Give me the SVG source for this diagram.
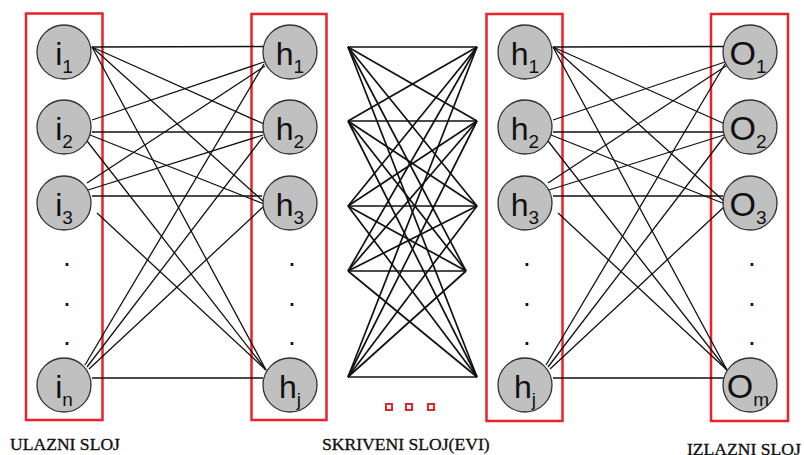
<svg xmlns="http://www.w3.org/2000/svg" width="804" height="455" viewBox="0 0 804 455">
  <style>
    .bg { fill: #ffffff; }
    .layer { fill: none; stroke: #e8232b; stroke-width: 2.5; }
    .node circle { fill: #c0c0c0; stroke: #333333; stroke-width: 1.3; }
    .lbl { font-family: "Liberation Sans", Arial, sans-serif; font-size: 32px; fill: #111111; text-anchor: middle; }
    .big { font-size: 34px; }
    .sub { font-size: 19px; }
    .dot { font-family: "Liberation Sans", Arial, sans-serif; font-size: 28px; fill: #111111; text-anchor: middle; }
    .edge line { stroke: #111111; stroke-width: 1.3; }
    .mid line { stroke: #111111; stroke-width: 1.7; }
    .cap { font-family: "Liberation Serif", "Times New Roman", serif; font-size: 17.6px; fill: #111111; stroke: #111111; stroke-width: 0.35; }
    .more { fill: #ffffff; stroke: #e8232b; stroke-width: 2; }
  </style>

  <rect class="bg" x="0" y="0" width="804" height="455"/>

  <!-- layer frames -->
  <g id="frames">
    <rect class="layer" x="26" y="13.5" width="76.5" height="406.5"/>
    <rect class="layer" x="251.5" y="14" width="75" height="406"/>
    <rect class="layer" x="486.5" y="14" width="76" height="407"/>
    <rect class="layer" x="711" y="14" width="77" height="407"/>
  </g>

  <!-- weighted connections -->
  <g id="connectors">
    <g id="edges-in" class="edge">
      <line x1="92" y1="47" x2="263" y2="46.5"/>
      <line x1="92" y1="47" x2="264" y2="124"/>
      <line x1="92" y1="47" x2="264" y2="202"/>
      <line x1="92" y1="47" x2="266" y2="370"/>
      <line x1="92" y1="120" x2="264" y2="62"/>
      <line x1="92" y1="132" x2="263" y2="132"/>
      <line x1="90" y1="135" x2="264" y2="204"/>
      <line x1="87" y1="141" x2="266" y2="370"/>
      <line x1="87" y1="183" x2="265" y2="66"/>
      <line x1="88" y1="190" x2="263" y2="135"/>
      <line x1="92" y1="196" x2="262" y2="196"/>
      <line x1="97" y1="213" x2="266" y2="370"/>
      <line x1="85" y1="365" x2="264" y2="64"/>
      <line x1="87" y1="367" x2="263" y2="137"/>
      <line x1="89" y1="369" x2="263" y2="207"/>
      <line x1="92" y1="378" x2="263" y2="378"/>
    </g>
    <g id="edges-hidden" class="mid">
      <line x1="348" y1="47" x2="477" y2="47"/>
      <line x1="348" y1="47" x2="477" y2="121"/>
      <line x1="348" y1="47" x2="477" y2="206"/>
      <line x1="348" y1="47" x2="466" y2="271"/>
      <line x1="348" y1="47" x2="477" y2="377"/>
      <line x1="348" y1="121" x2="477" y2="47"/>
      <line x1="348" y1="121" x2="477" y2="121"/>
      <line x1="348" y1="121" x2="477" y2="206"/>
      <line x1="348" y1="121" x2="466" y2="271"/>
      <line x1="348" y1="121" x2="477" y2="377"/>
      <line x1="348" y1="206" x2="477" y2="47"/>
      <line x1="348" y1="206" x2="477" y2="121"/>
      <line x1="348" y1="206" x2="477" y2="206"/>
      <line x1="348" y1="206" x2="466" y2="271"/>
      <line x1="348" y1="206" x2="477" y2="377"/>
      <line x1="348" y1="271" x2="477" y2="47"/>
      <line x1="348" y1="271" x2="477" y2="121"/>
      <line x1="348" y1="271" x2="477" y2="206"/>
      <line x1="348" y1="271" x2="466" y2="271"/>
      <line x1="348" y1="271" x2="477" y2="377"/>
      <line x1="348" y1="377" x2="477" y2="47"/>
      <line x1="348" y1="377" x2="477" y2="121"/>
      <line x1="348" y1="377" x2="477" y2="206"/>
      <line x1="348" y1="377" x2="466" y2="271"/>
      <line x1="348" y1="377" x2="477" y2="377"/>
    </g>
    <g id="edges-out" class="edge" transform="translate(461 0)">
      <line x1="92" y1="47" x2="263" y2="46.5"/>
      <line x1="92" y1="47" x2="264" y2="124"/>
      <line x1="92" y1="47" x2="264" y2="202"/>
      <line x1="92" y1="47" x2="266" y2="370"/>
      <line x1="92" y1="120" x2="264" y2="62"/>
      <line x1="92" y1="132" x2="263" y2="132"/>
      <line x1="90" y1="135" x2="264" y2="204"/>
      <line x1="87" y1="141" x2="266" y2="370"/>
      <line x1="87" y1="183" x2="265" y2="66"/>
      <line x1="88" y1="190" x2="263" y2="135"/>
      <line x1="92" y1="196" x2="262" y2="196"/>
      <line x1="97" y1="213" x2="266" y2="370"/>
      <line x1="85" y1="365" x2="264" y2="64"/>
      <line x1="87" y1="367" x2="263" y2="137"/>
      <line x1="89" y1="369" x2="263" y2="207"/>
      <line x1="92" y1="378" x2="263" y2="378"/>
    </g>
  </g>

  <!-- input layer -->
  <g id="i1" class="node"><circle cx="64" cy="52" r="27"/><text class="lbl" x="64" y="65">i<tspan class="sub" dy="8">1</tspan></text></g>
  <g id="i2" class="node"><circle cx="64" cy="127" r="27"/><text class="lbl" x="64" y="140">i<tspan class="sub" dy="8">2</tspan></text></g>
  <g id="i3" class="node"><circle cx="64" cy="203" r="27"/><text class="lbl" x="64" y="216">i<tspan class="sub" dy="8">3</tspan></text></g>
  <g id="in" class="node"><circle cx="64" cy="385" r="27"/><text class="lbl" x="64" y="398">i<tspan class="sub" dy="8">n</tspan></text></g>

  <!-- first hidden layer -->
  <g id="h1a" class="node"><circle cx="290" cy="52" r="27"/><text class="lbl" x="290" y="65">h<tspan class="sub" dy="8">1</tspan></text></g>
  <g id="h2a" class="node"><circle cx="290" cy="127" r="27"/><text class="lbl" x="290" y="140">h<tspan class="sub" dy="8">2</tspan></text></g>
  <g id="h3a" class="node"><circle cx="290" cy="203" r="27"/><text class="lbl" x="290" y="216">h<tspan class="sub" dy="8">3</tspan></text></g>
  <g id="hja" class="node"><circle cx="290" cy="385" r="27"/><text class="lbl" x="290" y="398">h<tspan class="sub" dy="8">j</tspan></text></g>

  <!-- last hidden layer -->
  <g id="h1b" class="node"><circle cx="525" cy="52" r="27"/><text class="lbl" x="525" y="65">h<tspan class="sub" dy="8">1</tspan></text></g>
  <g id="h2b" class="node"><circle cx="525" cy="127" r="27"/><text class="lbl" x="525" y="140">h<tspan class="sub" dy="8">2</tspan></text></g>
  <g id="h3b" class="node"><circle cx="525" cy="203" r="27"/><text class="lbl" x="525" y="216">h<tspan class="sub" dy="8">3</tspan></text></g>
  <g id="hjb" class="node"><circle cx="525" cy="385" r="27"/><text class="lbl" x="525" y="398">h<tspan class="sub" dy="8">j</tspan></text></g>

  <!-- output layer -->
  <g id="o1" class="node"><circle cx="750" cy="52" r="27"/><text class="lbl big" x="748" y="65">O<tspan class="sub" dy="8">1</tspan></text></g>
  <g id="o2" class="node"><circle cx="750" cy="127" r="27"/><text class="lbl big" x="748" y="140">O<tspan class="sub" dy="8">2</tspan></text></g>
  <g id="o3" class="node"><circle cx="750" cy="203" r="27"/><text class="lbl big" x="748" y="216">O<tspan class="sub" dy="8">3</tspan></text></g>
  <g id="om" class="node"><circle cx="750" cy="385" r="27"/><text class="lbl big" x="748" y="398">O<tspan class="sub" dy="8">m</tspan></text></g>

  <!-- ellipsis dots inside each layer -->
  <g id="ellipses">
    <text class="dot" x="67" y="266">.</text><text class="dot" x="67" y="306">.</text><text class="dot" x="67" y="345">.</text>
    <text class="dot" x="292" y="266">.</text><text class="dot" x="292" y="306">.</text><text class="dot" x="292" y="345">.</text>
    <text class="dot" x="527" y="266">.</text><text class="dot" x="527" y="306">.</text><text class="dot" x="527" y="345">.</text>
    <text class="dot" x="752" y="266">.</text><text class="dot" x="752" y="306">.</text><text class="dot" x="752" y="345">.</text>
  </g>

  <!-- more hidden layers marker -->
  <g id="more">
    <rect class="more" x="386" y="404" width="6" height="6"/>
    <rect class="more" x="406" y="404" width="6" height="6"/>
    <rect class="more" x="428" y="404" width="6" height="6"/>
  </g>

  <!-- captions -->
  <g id="captions">
    <text class="cap" x="10" y="450">ULAZNI SLOJ</text>
    <text class="cap" x="322" y="450">SKRIVENI SLOJ(EVI)</text>
    <text class="cap" x="687" y="455">IZLAZNI SLOJ</text>
  </g>
</svg>
